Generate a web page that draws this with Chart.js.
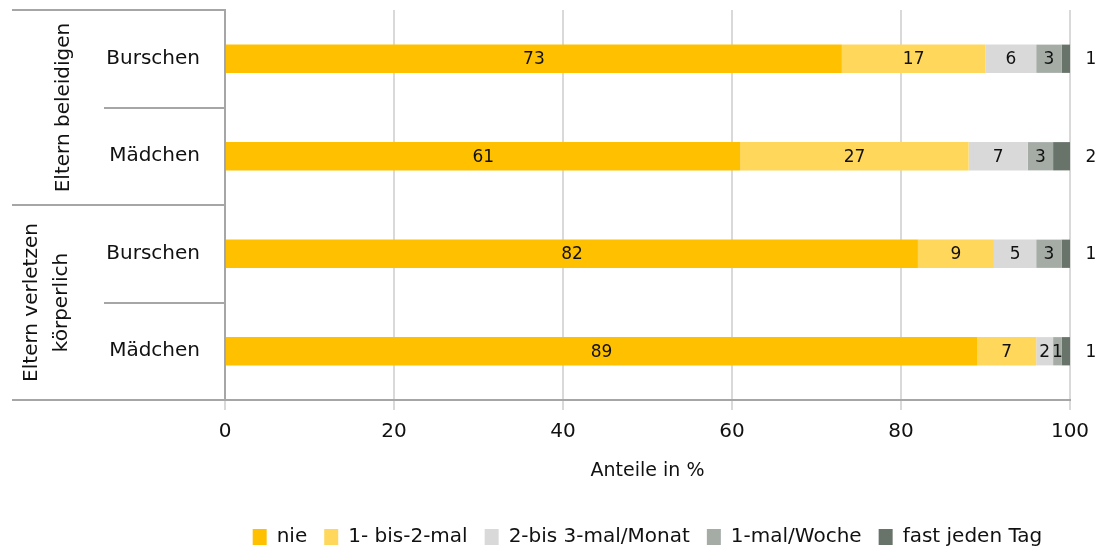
<!DOCTYPE html>
<html>
<head>
<meta charset="utf-8">
<script src="https://cdn.jsdelivr.net/npm/chart.js@4"></script>
<style>
    html, body { margin: 0; padding: 0; background: #fff; }
    #wrap { width: 1104px; height: 551px; }
</style>
</head>
<body>
<div id="wrap"><canvas id="chart" width="1104" height="551"></canvas></div>
<script>
// Chart data
const categories = ['Burschen', 'Mädchen', 'Burschen', 'Mädchen'];
const groups = [['Eltern beleidigen'], ['Eltern verletzen', 'körperlich']];
const seriesNames = ['nie', '1- bis-2-mal', '2-bis 3-mal/Monat', '1-mal/Woche', 'fast jeden Tag'];
const nie = [73, 61, 82, 89];
const einBisZweiMal = [17, 27, 9, 7];
const zweiBisDreiMal = [6, 7, 5, 2];
const einmalWoche = [3, 3, 3, 1];
const fastTaeglich = [1, 2, 1, 1];
const xTicks = [0, 20, 40, 60, 80, 100];

const colors = ['#FFC000', '#FFD75A', '#D9D9D9', '#A5ACA6', '#68736A'];
const lineGray = '#A6A6A6';
const fontFamily = '"DejaVu Sans", Verdana, sans-serif';

// values inside the bars, last series to the right of the plot
const valueLabels = {
    id: 'valueLabels',
    afterDatasetsDraw(chart) {
        const ctx = chart.ctx;
        ctx.save();
        ctx.font = '17px ' + fontFamily;
        ctx.fillStyle = '#111';
        ctx.textAlign = 'center';
        ctx.textBaseline = 'middle';
        const last = chart.data.datasets.length - 1;
        chart.data.datasets.forEach((ds, i) => {
            chart.getDatasetMeta(i).data.forEach((bar, j) => {
                const x = i === last ? chart.chartArea.right + 21 : (bar.x + bar.base) / 2;
                ctx.fillText(String(ds.data[j]), x, bar.y + 1);
            });
        });
        ctx.restore();
    }
};

// group labels and separator lines on the left
const groupAxis = {
    id: 'groupAxis',
    afterDraw(chart) {
        const ctx = chart.ctx;
        const y = chart.scales.y;
        const area = chart.chartArea;
        const edge = k => {
            if (k === 0) return area.top;
            if (k === categories.length) return area.bottom;
            return (y.getPixelForValue(k - 1) + y.getPixelForValue(k)) / 2;
        };
        ctx.save();
        ctx.strokeStyle = lineGray;
        ctx.lineWidth = 2;
        for (let k = 0; k <= categories.length; k++) {
            const x0 = k % 2 === 0 ? 12 : 104;
            const yy = Math.round(edge(k));
            ctx.beginPath();
            ctx.moveTo(x0, yy);
            ctx.lineTo(area.left, yy);
            ctx.stroke();
        }
        ctx.font = '20px ' + fontFamily;
        ctx.fillStyle = '#111';
        ctx.textAlign = 'center';
        ctx.textBaseline = 'middle';
        groups.forEach((lines, g) => {
            const mid = (edge(g * 2) + edge(g * 2 + 2)) / 2;
            const xs = lines.length === 1 ? [64] : [32, 62];
            lines.forEach((t, n) => {
                ctx.save();
                ctx.translate(xs[n], mid);
                ctx.rotate(-Math.PI / 2);
                ctx.fillText(t, 0, 0);
                ctx.restore();
            });
        });
        ctx.restore();
    }
};

const seriesData = [nie, einBisZweiMal, zweiBisDreiMal, einmalWoche, fastTaeglich];

new Chart(document.getElementById('chart'), {
    type: 'bar',
    data: {
        labels: categories,
        datasets: seriesNames.map((name, i) => ({
            label: name,
            data: seriesData[i],
            backgroundColor: colors[i],
            borderWidth: 0,
            categoryPercentage: 1,
            barPercentage: 0.29
        }))
    },
    options: {
        indexAxis: 'y',
        responsive: false,
        animation: false,
        layout: { padding: { top: 10, right: 34, bottom: -6, left: 0 } },
        scales: {
            x: {
                stacked: true,
                min: 0,
                max: 100,
                afterBuildTicks: scale => { scale.ticks = xTicks.map(v => ({ value: v })); },
                afterFit: scale => { scale.height = 110; },
                grid: { color: '#D9D9D9', lineWidth: 2, tickLength: 10 },
                border: { color: lineGray, width: 2 },
                ticks: { color: '#111', padding: 10, font: { family: fontFamily, size: 20 } },
                title: {
                    display: true,
                    text: 'Anteile in %',
                    color: '#111',
                    font: { family: fontFamily, size: 19 },
                    padding: { top: 0, bottom: 28 }
                }
            },
            y: {
                stacked: true,
                afterFit: scale => {
                    scale.width = 225;
                    scale.paddingTop = 0;
                    scale.paddingBottom = 0;
                },
                grid: { display: false, drawTicks: false },
                border: { color: lineGray, width: 2 },
                ticks: { color: '#111', padding: 25, font: { family: fontFamily, size: 20 } }
            }
        },
        plugins: {
            legend: {
                position: 'bottom',
                fullSize: false,
                labels: {
                    boxWidth: 14,
                    boxHeight: 16,
                    padding: 17,
                    color: '#111',
                    font: { family: fontFamily, size: 20 }
                }
            },
            tooltip: { enabled: false }
        }
    },
    plugins: [valueLabels, groupAxis]
});
</script>
</body>
</html>
